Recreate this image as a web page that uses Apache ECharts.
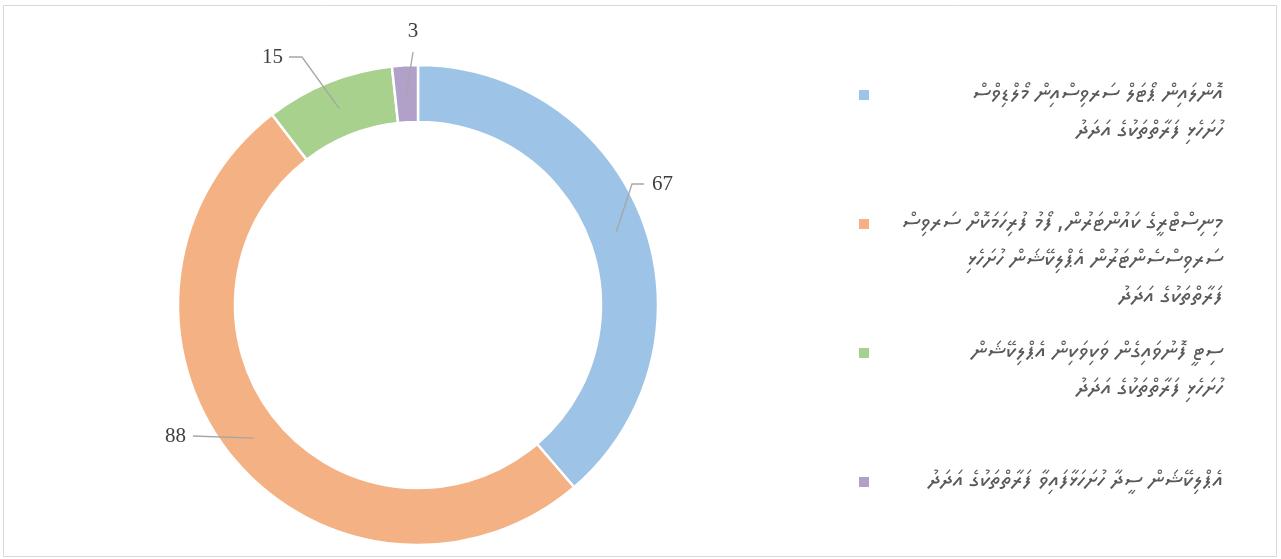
<!DOCTYPE html>
<html>
<head>
<meta charset="utf-8">
<script src="https://cdn.jsdelivr.net/npm/echarts@6/dist/echarts.min.js"></script>
<style>
  html, body { margin: 0; padding: 0; background: #ffffff; }
  #chart { width: 1281px; height: 559px; }
</style>
</head>
<body>
<div id="chart"></div>
<script>
// ---- data ----
const legendLines = [
  ["އޮންލައިން ޕޯޓަލް ސަރވިސްއިން މޯލްޑިވްސް", "ހުށަހެޅި ފަރާތްތަކުގެ އަދަދު"],
  ["މިނިސްޓްރީގެ ކައުންޓަރުން، ފޯމު ފުރިހަމަކޮށް ސަރވިސް", "ސަރވިސްސެންޓަރުން އެޕްލިކޭޝަން ހުށަހެޅި", "ފަރާތްތަކުގެ އަދަދު"],
  ["ސިޓީ ފޮނުވައިގެން ވަކިވަކިން އެޕްލިކޭޝަން", "ހުށަހެޅި ފަރާތްތަކުގެ އަދަދު"],
  ["އެޕްލިކޭޝަން ސީދާ ހުށަހަޅާފައިވާ ފަރާތްތަކުގެ އަދަދު"]
];
const categories = legendLines.map(l => l.join(" "));
const values = [67, 88, 15, 3];

// ---- style / layout ----
const colors = ["#9DC3E6", "#F4B183", "#A9D18E", "#B1A0C7"];
const CENTER = [418, 305];
const R_IN = 183, R_OUT = 240;
const LH = 37;
const legendCenters = [92, 221, 350, 479];
// label anchor + leader elbow/end per slice
const labelPlace = [
  { x: 652, y: 184, align: "left",   elbow: [632, 184], end: [644, 184] },
  { x: 186, y: 436, align: "right",  elbow: [193, 436], end: [193, 436] },
  { x: 283, y: 57,  align: "right",  elbow: [302, 57],  end: [289, 57] },
  { x: 413, y: 31,  align: "center", elbow: [413, 52],  end: [413, 52] }
];

const chart = echarts.init(document.getElementById("chart"), null, { renderer: "canvas" });

const thaanaFont = "'Noto Sans Thaana', 'MV Faruma', 'Noto Sans', 'DejaVu Sans', sans-serif";

const legends = categories.map((name, i) => {
  const n = legendLines[i].length;
  return {
    orient: "vertical",
    left: 857,
    top: legendCenters[i] - 9,
    padding: 0,
    itemWidth: 12,
    itemHeight: 12,
    icon: "rect",
    selectedMode: false,
    data: [name],
    formatter: function (nm) {
      const k = categories.indexOf(nm);
      return legendLines[k].map(l => "{t|" + l + "}").join("\n");
    },
    textStyle: {
      padding: [(n - 1) * LH, 0, 0, 0],
      rich: {
        t: {
          width: 348,
          align: "right",
          lineHeight: LH,
          fontSize: 24,
          color: "#595959",
          fontFamily: thaanaFont
        }
      }
    }
  };
});

const frame = {
  type: "rect",
  shape: { x: 3.5, y: 5.5, width: 1273, height: 551 },
  style: { fill: null, stroke: "#D9D9D9", lineWidth: 1 },
  silent: true,
  z: 0
};

const option = {
  backgroundColor: "#ffffff",
  animation: false,
  color: colors,
  graphic: [frame],
  legend: legends,
  series: [{
    type: "pie",
    center: CENTER,
    radius: [R_IN, R_OUT],
    startAngle: 90,
    clockwise: true,
    avoidLabelOverlap: false,
    itemStyle: { borderColor: "#ffffff", borderWidth: 2.5 },
    emphasis: { disabled: true },
    label: {
      show: true,
      position: "outside",
      formatter: "{c}",
      fontFamily: "'Liberation Serif', 'Times New Roman', serif",
      fontSize: 21,
      color: "#404040"
    },
    labelLine: { show: false },
    labelLayout: function (params) {
      const p = labelPlace[params.dataIndex];
      return { x: p.x, y: p.y, align: p.align, verticalAlign: "middle" };
    },
    data: categories.map((c, i) => ({ name: c, value: values[i] }))
  }]
};

chart.setOption(option);

// leader lines from the middle of each ring slice (taken from the pie's own layout)
const pieData = chart.getModel().getSeriesByIndex(0).getData();
const leaders = values.map((v, i) => {
  const l = pieData.getItemLayout(i);
  const mid = (l.startAngle + l.endAngle) / 2;
  const rm = (l.r + l.r0) / 2;
  const start = [l.cx + rm * Math.cos(mid), l.cy + rm * Math.sin(mid)];
  return {
    type: "polyline",
    shape: { points: [start, labelPlace[i].elbow, labelPlace[i].end] },
    style: { stroke: "#A6A6A6", lineWidth: 1.3, fill: null },
    silent: true,
    z: 10
  };
});
chart.setOption({ graphic: [frame].concat(leaders) });
</script>
</body>
</html>
